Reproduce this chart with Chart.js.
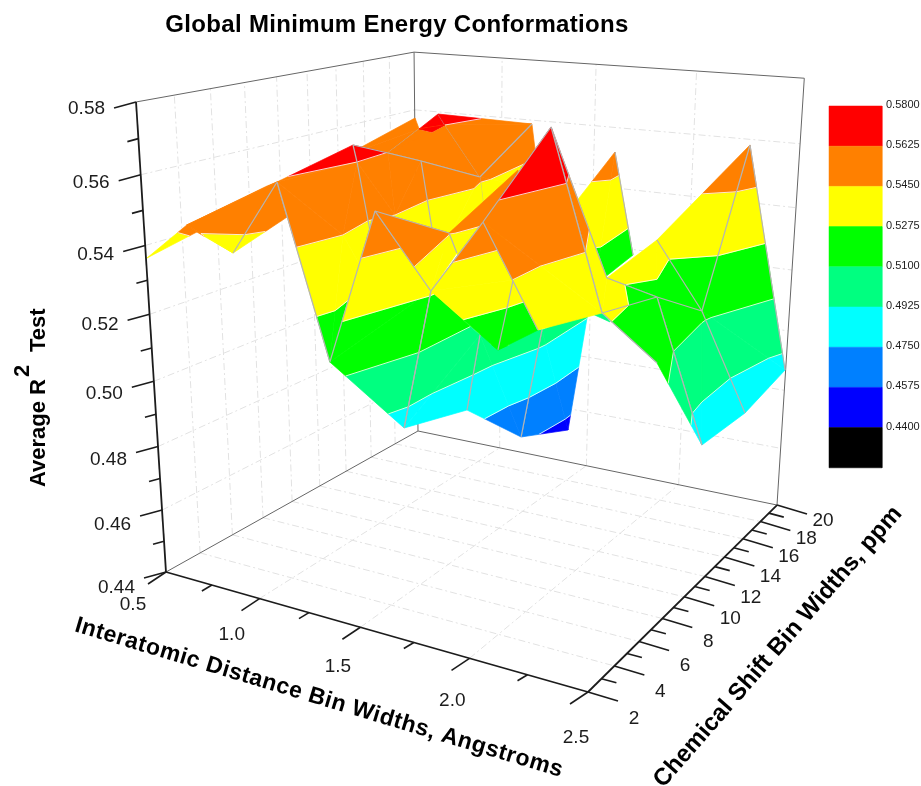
<!DOCTYPE html><html><head><meta charset="utf-8"><style>html,body{margin:0;background:#fff}canvas{display:block}</style>
<script src="https://cdn.jsdelivr.net/npm/chart.js@4"></script></head><body>
<canvas id="c" width="921" height="786"></canvas>
<script>
// Surface vertices: x = interatomic distance bin (Å), y = chemical shift bin (ppm), z = average R² test
const vertexIds=['a','b','A0','c','G','dp','d','e','f','X','g','h','A5','A6','A3','A8','l','m','Y','W','D2','Zm','L2','O','Z','t','n','qL','qR','s','p','V','U','W2','V2','E','C','F','H','V1','X1','X2','X3','X4','A18','A24','A25','B18','A20','A23','B25','R8','R10','R7','R5','R1','R2','R4','R3','Vx','A27','LL','P','Rg'];
const vertexX=[0.487,0.722,0.790,0.845,1.027,0.889,1.121,1.235,1.168,0.581,0.445,0.961,1.055,1.002,1.049,1.050,0.995,1.189,1.147,1.165,1.188,1.228,1.449,1.201,1.253,1.393,1.588,1.543,1.841,1.378,1.602,1.638,1.475,1.734,1.643,1.441,1.405,1.501,1.396,1.804,1.459,1.393,1.622,1.526,1.865,1.935,1.853,2.042,2.036,2.276,2.260,2.050,2.271,2.052,2.272,2.266,2.502,2.483,2.492,2.499,1.632,1.579,1.804,1.729];
const vertexY=[2.18,2.00,1.80,3.10,4.16,4.68,2.57,5.63,8.74,13.46,20.80,13.83,13.45,15.23,14.01,21.95,13.47,15.19,16.10,20.85,6.46,8.33,8.06,7.92,4.66,1.94,2.24,6.27,1.98,6.69,6.65,6.64,13.72,8.91,7.12,11.32,10.87,15.48,15.52,6.97,20.55,20.00,19.73,20.50,4.93,5.90,9.16,2.18,6.77,6.54,2.23,11.15,11.21,15.56,15.61,20.10,19.87,15.85,11.23,6.67,19.56,14.73,14.75,19.78];
const vertexZ=[.536,.5476,.5465,.539,.549,.556,.5615,.5685,.5622,.552,.556,.5625,.5625,.5625,.5675,.556,.553,.547,.537,.535,.5625,.545,.534,.517,.545,.516,.5577,.529,.5396,.4855,.5453,.54,.553,.5423,.533,.505,.4814,.4989,.4607,.5133,.4948,.452,.4945,.497,.553,.5364,.5152,.5585,.5767,.5295,.5333,.5288,.5252,.533,.5127,.5581,.4872,.482,.4835,.518,.5526,.532,.518,.5186];
// Facets, drawn back to front, and the mesh lines that belong to each
const stages=[
 [['a b A0','b dp d','b d c','b c A0','c d G'],['c d','d G']],
 [['X g h','X h f'],['h f']],
 [['f h A5','f A5 A6','f A6 m','f m l'],['f l','l m','A6 m']],
 [['h A3 A6','h A6 A5'],['A6 A3']],
 [['A6 A3 A8','A6 A8 m','m A8 W','m W Y'],['A8 m','m Y']],
 [['Zm D2 f','Zm f l','Zm l L2','Zm L2 O','Zm O D2','l m L2','m Y L2'],['l L2','f l','l m']],
 [['e f D2','d e D2','d D2 Z','D2 O Z','O t Z','t d Z'],['e f','e D2','D2 O','d t']],
 [['p U W2','p W2 V2'],[]],
 [['A27 LL P','A27 P Rg'],['A27 Rg']],
 [['R7 R1 R5','R1 R2 R5','R5 R2 R4'],['R1 R2']],
 [['R8 R7 R10','R7 R5 R10','R5 R4 R3','R5 R3 R10'],['R8 R10','R7 R5','R5 R1','R10 R5','R5 R4','R10 R3']],
 [['F X1 X2','F X2 H','X1 X3 X4'],['F H']],
 [['E F H','E H C','E V1 F'],['F H','E C']],
 [['s qL E','s E C'],['E C']],
 [['t qL s','t n qL'],['t n','n qL','qL s']],
 [['A23 Vx R10','Vx R3 R10'],['R10 R3','A23 Vx']],
 [['A20 R8 A23','R8 R10 A23'],['A20 A23','A23 R10','R8 R10','A20 R8']],
 [['n p qR','p V qR'],['n p','n qR','p V']],
 [['qR A18 A24','qR A24 V1','A24 A25 V1'],['qR A18','A24 V1','qR s']],
 [['B18 A20 A23','B18 A23 B25'],['B18 A20','B18 B25','A20 A23']]
];
const bandLevels=[.44,.4575,.475,.4925,.51,.5275,.545,.5625,.58];
const bandColors=['#0000ff','#0080ff','#00ffff','#00ff80','#00ff00','#ffff00','#ff8000','#ff0000'];
const legendLabels=['0.5800','0.5625','0.5450','0.5275','0.5100','0.4925','0.4750','0.4575','0.4400'];
const legendColors=['#ff0000','#ff8000','#ffff00','#00ff00','#00ff80','#00ffff','#0080ff','#0000ff','#000000'];
const xMajor=[0.5,1,1.5,2,2.5], xMinor=[.75,1.25,1.75,2.25];
const yMajor=[2,4,6,8,10,12,14,16,18,20], yMinor=[3,5,7,9,11,13,15,17,19];
const zMajor=[.44,.46,.48,.50,.52,.54,.56,.58], zMinor=[.45,.47,.49,.51,.53,.55,.57];

// Perspective camera of the 3D box
const cam={g:-.1461,h:.2524,i:-.09,a:336.1,b:357.5,c:-42.2,d:18.9,e:-32.2,f:-479.2,x0:166,y0:572};
function project(x,y,z){const u=(x-.5)/2,v=(y-2)/18,w=(z-.44)/.14,k=1+cam.g*u+cam.h*v+cam.i*w;
 return {x:(cam.a*u+cam.b*v+cam.c*w+cam.x0)/k,y:(cam.d*u+cam.e*v+cam.f*w+cam.y0)/k};}
const V={};vertexIds.forEach((n,i)=>V[n]=[vertexX[i],vertexY[i],vertexZ[i]]);

const datasets=[];let ord=1000000;
function add(points,o){datasets.push(Object.assign({data:points,showLine:true,pointRadius:0,tension:0,fill:false,order:ord--,borderColor:'#000',borderWidth:1,clip:false},o));}
function line3(a,b,o){add([project(...a),project(...b)],o);}
function screen(p,dx,dy){const q=project(...p);return {x:q.x+dx,y:q.y+dy};}

// Walls and floor grid
const gridStyle={borderColor:'#e2e2e2',borderWidth:1,borderDash:[7,3,2,3]};
yMajor.slice(1,-1).forEach(y=>{line3([.5,y,.44],[.5,y,.58],gridStyle);line3([.5,y,.44],[2.5,y,.44],gridStyle);});
zMajor.slice(1,-1).forEach(z=>{line3([.5,2,z],[.5,20,z],gridStyle);line3([.5,20,z],[2.5,20,z],gridStyle);});
xMajor.slice(1,-1).forEach(x=>{line3([x,20,.44],[x,20,.58],gridStyle);line3([x,2,.44],[x,20,.44],gridStyle);});
// Box
const thin={borderColor:'#666',borderWidth:1}, heavy={borderColor:'#1c1c1c',borderWidth:1.8};
line3([.5,2,.58],[.5,20,.58],thin);line3([.5,20,.58],[2.5,20,.58],thin);line3([.5,20,.44],[.5,20,.58],thin);
line3([.5,2,.44],[.5,20,.44],thin);line3([.5,20,.44],[2.5,20,.44],thin);line3([2.5,20,.44],[2.5,20,.58],thin);
line3([.5,2,.44],[.5,2,.58],heavy);line3([.5,2,.44],[2.5,2,.44],heavy);line3([2.5,2,.44],[2.5,20,.44],heavy);
// Ticks
function tick(p,dx,dy){add([project(...p),screen(p,dx,dy)],{borderColor:'#1c1c1c',borderWidth:1.6});}
zMajor.forEach(z=>tick([.5,2,z],-22,6));zMinor.forEach(z=>tick([.5,2,z],-11,3));
xMajor.forEach(x=>tick([x,2,.44],-18,12));xMinor.forEach(x=>tick([x,2,.44],-10,6));
yMajor.forEach(y=>tick([2.5,y,.44],30,9));yMinor.forEach(y=>tick([2.5,y,.44],15,4));

// Contour-band clipping of surface triangles
function clip(poly,lv,above){const out=[];for(let i=0;i<poly.length;i++){const p=poly[i],q=poly[(i+1)%poly.length];
  const a=above?p[2]>=lv:p[2]<=lv,b=above?q[2]>=lv:q[2]<=lv;if(a)out.push(p);
  if(a!==b){const t=(lv-p[2])/(q[2]-p[2]);out.push([p[0]+t*(q[0]-p[0]),p[1]+t*(q[1]-p[1]),lv]);}}return out;}
function area(pts){let s=0;for(let i=0;i<pts.length;i++){const p=pts[i],q=pts[(i+1)%pts.length];s+=p.x*q.y-q.x*p.y;}return Math.abs(s)/2;}
stages.forEach(([tris,edges])=>{
 const tv=tris.map(s=>s.split(' ').map(n=>V[n]));
 tv.forEach(t=>{bandColors.forEach((col,k)=>{let p=clip(t,bandLevels[k],true);if(p.length)p=clip(p,bandLevels[k+1],false);
   if(p.length<3)return;const pts=p.map(q=>project(...q));if(area(pts)<.25)return;pts.push(pts[0]);
   add(pts,{fill:'shape',backgroundColor:col,borderColor:col,borderWidth:.7});});});
 tv.forEach(t=>{bandLevels.slice(1,-1).forEach(lv=>{const seg=[];for(let i=0;i<3;i++){const p=t[i],q=t[(i+1)%3];
   if((p[2]>=lv)!==(q[2]>=lv)){const s=(lv-p[2])/(q[2]-p[2]);seg.push(project(p[0]+s*(q[0]-p[0]),p[1]+s*(q[1]-p[1]),lv));}}
   if(seg.length===2)add(seg,{borderColor:'rgba(255,255,255,.8)',borderWidth:1});});});
 edges.forEach(e=>{const [m,n]=e.split(' ');line3(V[m],V[n],{borderColor:'#b4b4b4',borderWidth:1.2});});
});
// Colour scale
const barL=829,barR=882,barT=106,barStep=40.2;
legendColors.forEach((col,i)=>{const t=barT+i*barStep,b=t+barStep;
 add([{x:barL,y:t},{x:barR,y:t},{x:barR,y:b},{x:barL,y:b},{x:barL,y:t}],{fill:'shape',backgroundColor:col,borderColor:col,borderWidth:.5});});

const textPlugin={id:'text',afterDraw(ch){const c=ch.ctx;c.save();c.fillStyle='#000';c.textBaseline='middle';
 const reg=s=>s+'px "Liberation Sans"',bold=s=>'bold '+s+'px "Liberation Sans"';
 function put(t,x,y,font,align){c.font=font;c.textAlign=align||'center';c.letterSpacing='0px';c.fillText(t,x,y);}
 function fit(t,x,y,ang,font,w){c.save();c.font=font;c.letterSpacing='0px';const m=c.measureText(t).width;c.letterSpacing=((w-m)/(t.length-1))+'px';
   c.translate(x,y);c.rotate(ang);c.textAlign='center';c.fillText(t,0,0);c.restore();}
 c.fillStyle='#1c1c1c';
 zMajor.forEach(z=>{const w=(z-.44)/.14,p=project(.5,2,z);put(z.toFixed(2),p.x-49.5,p.y+7+9*(1-w),reg(19));});
 xMajor.forEach(x=>{const u=(x-.5)/2,p=project(x,2,.44);put(x.toFixed(1),p.x-33+21*u,p.y+33+13*u,reg(19));});
 yMajor.forEach(y=>{const v=(y-2)/18,p=project(2.5,y,.44);put(String(y),p.x+46,p.y+27-11*v,reg(19));});
 c.fillStyle='#000';
 fit('Global Minimum Energy Conformations',397,25,0,bold(24),463);
 fit('Interatomic Distance Bin Widths, Angstroms',319,698,.2915,bold(23),508);
 fit('Chemical Shift Bin Widths, ppm',778,647,-.853,bold(24),364);
 c.save();c.translate(45,487);c.rotate(-Math.PI/2);c.textAlign='left';c.textBaseline='alphabetic';c.font=bold(22);c.letterSpacing='0px';
 c.fillText('Average R',0,0);c.fillText('2',110,-16);c.fillText('Test',135,0);c.restore();
 c.fillStyle='#1c1c1c';legendLabels.forEach((t,i)=>put(t,886,barT+i*barStep-1,reg(11),'left'));
 c.restore();}};

new Chart(document.getElementById('c'),{type:'scatter',data:{datasets},plugins:[textPlugin],options:{responsive:false,animation:false,events:[],layout:{padding:0},
 plugins:{legend:{display:false},tooltip:{enabled:false},title:{display:false}},
 scales:{x:{type:'linear',min:0,max:921,display:false},y:{type:'linear',min:0,max:786,reverse:true,display:false}}}});
</script></body></html>
